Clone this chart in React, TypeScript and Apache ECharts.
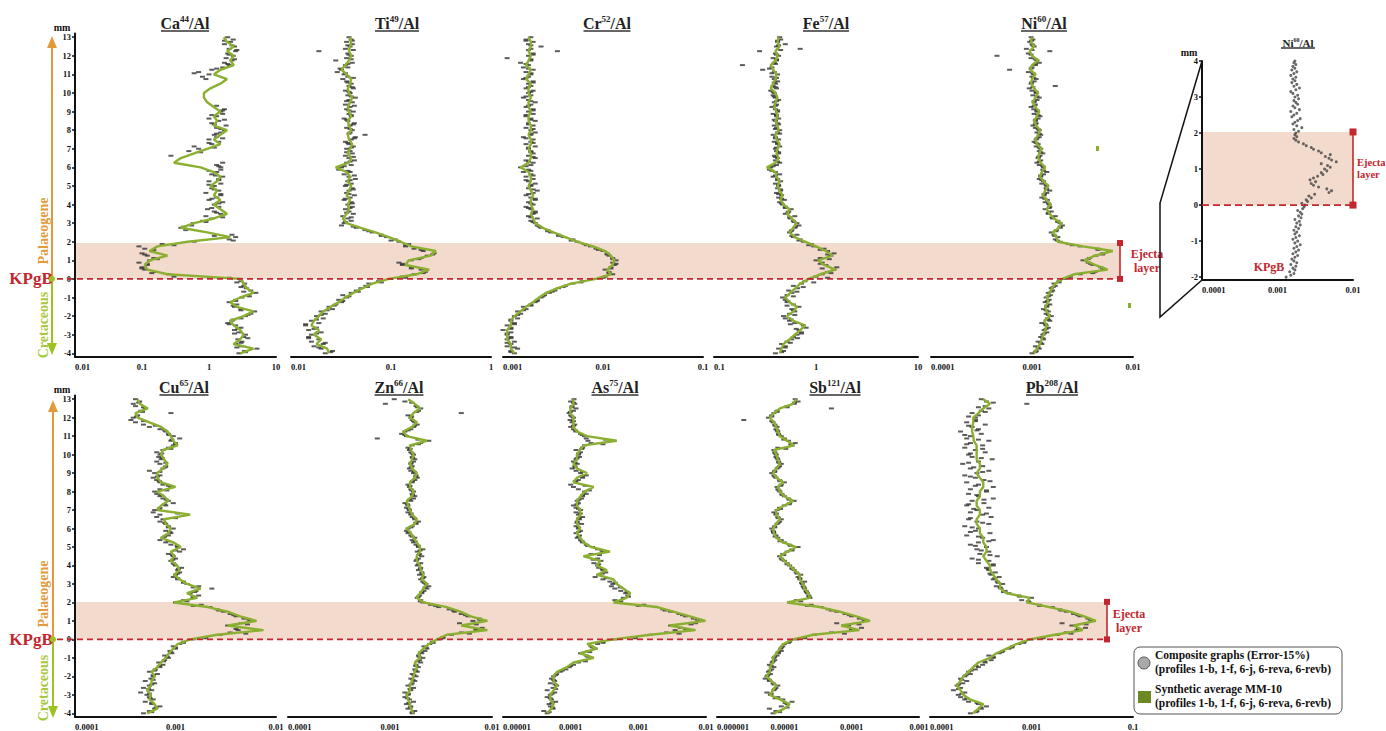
import React, { useEffect, useRef } from "react";
import * as echarts from "echarts";

// ---------- depth grids (mm) ----------
const lineDepths: number[] = Array.from({ length: 69 }, (_, i) => -4 + i * 0.25);
const pointDepths: number[] = Array.from({ length: 137 }, (_, i) => -4 + i * 0.125);
const pointDepths2: number[] = Array.from({ length: 68 }, (_, i) => -3.9375 + i * 0.25);
const insetDepths: number[] = Array.from({ length: 121 }, (_, i) => -2 + i * 0.05);
const depthTicks = [-4, -3, -2, -1, 0, 1, 2, 3, 4, 5, 6, 7, 8, 9, 10, 11, 12, 13];
const insetDepthTicks = [-2, -1, 0, 1, 2, 3, 4];
const ejectaTop = [1.93, 2.03];
const insetEjectaTop = 2.03;

// ---------- tick labels ----------
const caTicks = ["0.01", "0.1", "1", "10"];
const tiTicks = ["0.01", "0.1", "1"];
const crTicks = ["0.001", "0.01", "0.1"];
const feTicks = ["0.1", "1", "10"];
const niTicks = ["0.0001", "0.001", "0.01"];
const cuTicks = ["0.0001", "0.001", "0.01"];
const znTicks = ["0.0001", "0.001", "0.01"];
const asTicks = ["0.00001", "0.0001", "0.001", "0.01"];
const sbTicks = ["0.000001", "0.00001", "0.0001", "0.001"];
const pbTicks = ["0.0001", "0.001", "0.1"];
const insetTicks = ["0.0001", "0.001", "0.01"];

// ---------- Ca44/Al (x 0.01) ----------
const caLine = [293,460,234,293,328,293,234,208,328,460,260,208,293,460,367,328,293,24,12,11,13,24,13,17,48,208,94,38,60,118,186,148,118,148,118,132,105,132,148,118,75,30,38,60,94,148,118,148,186,118,132,118,148,118,94,84,84,105,148,186,118,148,234,208,234,186,234,186,166];
const caPts = [280,340,520,300,250,310,270,330, 350,280,240,300,250,190,220,300, 350,420,480,300,240,260,200,250, 310,380,500,420,360,330,340,300, 290,30,25,16,11,10,12,9, 13,15,12,10,14,11,9,20, 60,200,250,220,null,45,38,55, 58,80,110,90,150,120,95,140, 120,160,100,130,150,90,140,110, 120,150,100,140,160,110,130,150, 150,130,160,null,null,27,null,50, 70,60,110,140,100,130,120,150, 170,130,180,110,140,100,130,160, 150,170,null,null,null,null,null,null, null,null,null,null,null,null,90,80, 100,70,110,160,200,170,220,180, 230,190,250,200,240,170,210,230,190];
const caPts2 = [350,260,300,380,240,270,200,230, 380,300,230,250,400,330,300,260, 200,14,10,12,17,11,15,30, 230,120,null,42,90,160,130,110, 140,110,150,120,100,140,125,100, 140,null,null,75,120,100,160,130, 150,120,170,110,160,130,null,null, null,null,null,null,60,130,190,240, 200,260,220,170];

// ---------- Ti49/Al (x 0.001) ----------
const tiLine = [24,23,18,20,17,19,16,17,19,21,25,30,35,42,52,65,95,180,240,140,150,250,280,160,125,95,70,50,36,33,36,38,37,39,36,38,40,37,39,36,28,38,40,37,39,41,38,37,40,38,37,40,38,37,39,41,38,37,39,40,36,32,35,38,40,38,39,40,39];
const tiPts = [22,26,20,17,21,16,19,15, 16,20,15,18,14,19,16,21, 18,22,20,26,24,28,32,30, 36,33,40,45,50,56,60,75, 100,130,170,220,200,160,130,120, 160,200,230,270,210,170,140,150, 120,110,90,80,65,55,45,32, 34,40,37,33,42,38,35,41, 37,40,34,39,43,36,38,41, 35,40,37,44,38,34,39,30, 32,40,36,43,38,35,41,39, 36,42,38,35,40,44,55,39, 41,36,39,43,37,34,40,38, 42,36,39,35,41,38,44,37, 39,35,42,38,40,36,33,37, 34,29,32,37,35,41,28,36, 40,37,19,35,39,41,36,40,38];
const tiPts2 = [25,19,22,15,18,17,14,18, 20,23,27,33,38,47,58,80, 140,210,160,130,190,260,200,140, 100,80,60,42,35,40,36,39, 41,35,38,42,36,39,43,37, 34,39,42,36,40,37,43,38, 39,42,36,40,38,43,36,40, 38,41,37,42,35,31,37,40, 38,42,37,41];

// ---------- Cr52/Al (x 0.0001) ----------
const crLine = [13,12,12,11,11,11,12,12,13,15,17,20,23,27,35,48,85,120,110,125,130,120,105,80,55,42,32,25,21,20,19,20,19,19,20,19,18,19,19,18,15,18,19,19,18,19,19,18,19,19,18,18,19,18,18,19,18,18,19,17,18,19,17,18,19,18,19,19,18];
const crPts = [13,12,14,11,12,13,11,12, 11,12,10,12,11,13,12,14, 13,15,14,17,16,19,21,22, 24,26,29,33,36,42,50,62, 80,105,125,115,105,120,130,125, 135,125,115,110,100,85,75,65, 55,50,40,36,30,28,24,22, 21,19,22,18,20,21,19,17, 20,18,21,19,17,20,22,18, 19,21,18,20,17,19,16,18, 15,19,20,17,21,18,20,19, 18,21,17,19,20,16,19,21, 19,17,20,18,21,19,17,20, 18,20,17,19,21,18,16,19, 18,20,17,19,18,20,16,18, 19,17,20,16,18,15,19,11, 18,20,35,19,24,18,20,17,19];
const crPts2 = [12,13,11,12,11,12,13,12, 14,16,19,22,25,31,40,60, 100,115,120,135,125,110,90,68, 48,36,28,23,20,19,21,18, 19,21,18,20,19,17,20,19, 17,18,20,19,18,20,17,19, 20,18,19,17,20,18,19,17, 19,18,20,17,19,18,17,19, 20,18,19,17];

// ---------- Fe57/Al (x 0.01) ----------
const feLine = [44,46,48,55,62,70,78,60,52,60,65,55,50,56,63,70,85,110,155,120,105,145,125,100,78,62,55,60,64,58,52,55,48,45,47,44,42,44,41,40,33,40,43,41,42,44,41,40,43,42,40,42,41,39,40,42,40,36,38,40,41,38,36,40,42,40,44,42,43];
const fePts = [40,48,43,50,46,52,58,60, 65,72,68,80,75,62,55,50, 48,55,62,58,68,60,52,50, 47,52,58,54,66,60,72,78, 90,100,115,130,150,160,125,115, 100,110,140,150,130,120,95,90, 75,70,60,65,55,58,62,68, 65,60,56,62,50,54,57,50, 47,44,49,43,46,41,45,42, 43,40,45,42,38,44,40,35, 36,41,44,40,42,39,43,41, 40,44,42,39,43,40,38,42, 44,41,39,42,40,43,41,38, 42,40,37,41,39,43,40,38, 39,36,41,38,40,42,39,37, 42,39,30,37,19,39,41,38, 43,40,28,70,41,50,42,45,44];
const fePts2 = [46,50,56,66,72,64,56,57, 62,60,52,53,60,65,75,95, 130,140,115,110,135,130,110,85, 68,58,57,63,61,55,53,50, 46,46,43,45,43,42,40,37, 38,42,40,43,41,42,40,44, 40,43,39,41,42,40,41,39, 38,40,39,41,37,35,40,41, 41,45,43,42];

// ---------- Ni60/Al (x 0.00001) ----------
const niLine = [105,112,120,125,130,135,140,132,150,140,135,145,140,150,158,170,200,260,560,420,330,420,630,320,180,175,160,185,195,165,150,140,152,140,128,135,145,130,120,125,135,122,115,118,125,112,108,115,120,110,105,112,118,108,102,108,115,105,98,100,108,96,100,115,100,95,105,98,100];
const niPts = [100,110,118,108,125,115,130,122, 128,140,132,145,138,125,150,142, 155,138,145,130,140,150,135,148, 138,152,145,160,155,170,165,185, 210,240,300,420,520,480,400,360, 320,370,430,500,580,450,300,230, 190,170,180,165,155,175,190,200, 190,180,160,170,145,155,135,150, 148,135,142,125,132,140,150,138, 140,125,130,118,122,130,140,128, 130,118,112,122,115,120,128,118, 122,110,115,105,110,118,122,112, 118,108,102,110,108,115,120,105, 112,104,98,108,105,112,118,102, 110,100,94,170,98,105,110,100, 104,92,60,100,108,118,112,98, 45,92,150,88,105,100,95,102,98];
const niPts2 = [108,115,122,128,132,138,136,145, 145,138,140,142,145,155,162,185, 230,400,500,380,360,500,450,250, 178,168,172,190,180,158,145,148, 146,134,132,140,138,125,122,130, 128,118,116,122,118,110,112,118, 115,108,108,115,112,105,105,112, 110,102,99,104,102,98,108,108, 98,100,102,99];

// ---------- Cu65/Al (x 0.00001) ----------
const cuLine = [52,66,62,55,57,52,57,58,62,58,66,72,80,86,95,105,140,260,750,330,640,440,330,210,97,165,130,178,130,110,97,110,104,90,97,90,113,95,72,85,90,80,77,140,66,72,85,77,66,100,72,66,66,75,83,77,72,75,105,95,90,83,72,55,42,40,53,44,42];
const cuPts = [48,55,62,70,58,50,60,55, 52,45,58,48,55,62,50,57, 60,66,55,63,70,75,68,78, 85,78,92,88,100,95,110,120, 150,200,280,350,420,null,330,450, 560,480,400,350,300,260,220,180, 100,120,150,170,140,160,230,170, 130,120,105,95,100,110,105,115, 100,95,90,100,95,85,110,120, 105,90,80,70,75,85,90,80, 95,85,80,70,75,65,70,60, 62,70,80,95,85,75,70,65, 62,70,90,75,70,65,60,70, 62,55,75,80,70,65,72,68, 70,65,75,85,95,100,90,110, 95,85,80,70,55,48,40,36, 38,42,90,45,50,40,38,44,40];
const cuPts2 = [58,64,58,56,55,54,58,60, 60,62,69,76,83,90,100,120, 200,500,400,520,540,380,270,150, 130,150,155,150,120,105,105,107, 97,94,93,100,104,85,78,88, 85,78,100,105,69,78,81,72, 82,85,69,66,70,79,80,74, 73,90,100,92,86,78,63,48, 41,47,48,43];

// ---------- Zn66/Al (x 0.00001) ----------
const znLine = [170,160,157,150,146,157,157,165,170,175,183,175,197,190,213,240,290,360,900,500,900,620,490,360,213,183,197,213,230,205,213,200,197,183,183,197,197,183,170,160,146,175,183,165,157,150,146,165,170,157,157,175,183,165,157,165,170,160,157,230,146,135,165,183,157,170,197,175,151];
const znPts = [165,175,150,160,145,170,155,140, 150,140,160,170,150,165,175,160, 180,165,185,175,190,180,200,195, 210,190,205,220,230,215,245,260, 300,330,400,500,700,800,550,480, 650,750,580,500,430,380,300,250, 210,200,185,195,205,215,230,240, 225,210,200,215,195,205,190,200, 185,200,180,190,205,195,185,210, 190,180,170,165,175,160,150,145, 150,165,180,190,175,165,160,150, 155,145,150,140,160,170,175,165, 170,160,155,150,165,175,185,180, 170,160,155,165,160,170,175,165, 170,160,155,150,165,200,240,75, 145,130,140,160,170,185,175,165, 160,150,500,190,200,180,90,140,110];
const znPts2 = [165,158,153,148,152,157,161,168, 172,179,179,186,193,201,226,265, 330,600,700,700,760,550,420,280, 198,190,205,221,217,209,206,198, 190,183,190,197,190,176,165,153, 160,179,174,161,153,148,155,167, 163,157,166,179,174,161,161,167, 165,158,190,188,140,150,174,170, 163,183,186,163];

// ---------- As75/Al (x 0.000001) ----------
const asLine = [45,52,56,50,50,56,63,56,56,63,88,110,220,138,245,175,430,1500,7000,2900,9800,5800,3300,1900,430,670,760,600,480,430,245,343,244,274,155,380,200,155,138,124,138,124,124,140,138,124,124,140,160,218,110,124,174,124,110,124,124,138,155,480,174,124,110,110,110,99,99,110,110];
const asPts = [45,40,55,50,48,60,52,45, 50,58,45,55,62,50,58,52, 56,62,70,85,95,110,130,160, 200,170,140,180,230,200,250,300, 450,900,1500,2600,3500,4200,3000,7000, 8500,6500,5000,4000,3000,2300,1800,1200, 500,450,600,700,650,550,450,400, 420,380,300,230,260,330,300,260, 250,220,280,250,170,200,300,250, 210,170,150,140,125,135,120,140, 130,120,145,125,135,150,130,120, 140,120,110,130,125,145,150,170, 160,130,110,100,120,130,150,170, 140,120,105,115,125,110,120,135, 130,140,120,150,160,200,180,170, 160,140,120,110,100,115,105,98, 110,100,95,110,120,105,115,100,112];
const asPts2 = [48,54,53,50,53,60,59,56, 60,75,99,165,179,191,210,300, 900,4000,5000,6000,7500,4500,2500,1000, 550,715,680,540,455,338,294,294, 259,215,267,290,178,147,131,131, 131,124,132,139,131,124,132,150, 189,164,117,149,149,117,117,124, 131,146,300,327,149,117,110,110, 104,99,104,110];

// ---------- Sb121/Al (x 0.0000001) ----------
const sbLine = [70,100,120,86,61,68,76,65,54,61,61,68,68,76,86,96,135,268,1300,700,1870,1180,667,337,110,240,226,200,190,170,170,140,120,100,86,110,150,96,76,70,68,76,86,76,76,100,135,100,86,80,96,76,68,76,86,80,76,70,140,110,86,80,76,70,61,70,86,135,150];
const sbPts = [68,75,60,90,110,130,95,80, 62,55,70,75,80,68,60,52, 55,62,58,65,70,60,66,72, 70,78,82,90,88,95,100,120, 150,200,280,500,1000,1400,900,600, 1600,1300,1000,800,600,450,350,250, 120,150,240,230,220,210,200,190, 185,200,170,160,175,150,140,130, 120,110,100,90,85,95,110,130, 160,120,100,90,80,75,70,68, 65,72,78,85,90,80,75,70, 78,85,100,120,140,115,100,92, 86,80,78,90,100,85,75,70, 65,72,78,85,90,82,80,75, 76,72,70,80,130,145,115,100, 90,82,80,75,78,72,68,25, 58,65,70,78,500,110,140,160,145];
const sbPts2 = [85,110,103,73,64,72,70,60, 57,61,64,68,72,81,91,115, 200,780,1000,1285,1525,920,500,220, 175,233,213,195,180,170,155,130, 110,93,98,130,123,86,73,69, 72,81,81,76,88,118,118,93, 83,88,86,72,72,81,83,78, 73,105,125,98,83,78,73,65, 65,78,110,142];

// ---------- Pb208/Al (x 0.000001) ----------
const pbLine = [267,300,335,247,213,200,183,200,213,240,267,300,390,450,570,710,960,1700,3200,2600,4300,3300,2400,1500,900,960,570,490,490,450,420,390,390,360,335,360,360,335,335,310,310,288,288,310,310,288,288,310,310,335,335,310,288,310,310,288,288,288,288,270,267,260,260,267,267,300,335,390,335];
const pbPts = [250,290,320,360,300,240,220,200, 190,220,170,200,185,210,230,200, 220,250,240,280,300,330,350,400, 420,380,480,520,600,650,750,850, 1000,1300,1800,2200,2800,3400,2500,2000, 4000,3600,3000,2600,2200,1900,1600,1200, 950,800,1000,750,600,550,500,450, 520,460,420,480,400,440,380,360, 420,300,380,260,460,310,380,290, 360,250,300,420,330,230,390,280, 300,220,380,290,240,400,330,250, 290,380,230,340,260,420,300,240, 360,250,420,300,230,340,280,220, 290,380,250,330,210,300,410,260, 240,350,280,220,330,250,380,230, 250,320,200,300,260,350,230,280, 280,300,260,320,380,350,900,360,320];
const pbPts2 = [284,318,291,230,206,191,191,206, 226,254,284,345,420,510,640,835, 1300,2450,2900,3450,3800,2850,1950,1200, 930,765,530,490,470,435,390,375, 420,300,390,320,280,380,300,250, 260,330,250,360,270,240,340,290, 360,280,390,250,330,270,240,320, 250,330,230,300,220,290,240,280, 240,350,300,420];

// ---------- inset Ni60/Al, -2..4 mm (x 0.00001) ----------
const insetNiPts = [130,150,165,145,170,160,175,150,180,165, 155,170,185,160,175,190,165,180,200,170, 185,160,175,195,170,180,165,190,175,200, 180,195,170,205,190,210,200,185,215,225, 230,210,250,240,280,260,310,480,520,450, 350,300,280,320,270,300,340,400,380,450, 420,500,460,380,600,520,480,430,500,380, 350,300,280,240,220,190,175,165,180,170, 175,190,165,210,180,160,170,185,200,155, 165,180,150,195,170,160,185,175,165,190, 170,185,160,150,175,195,165,180,155,170, 160,175,150,165,180,155,170,160,175,165,170];

// ---------- layout / style ----------
const SERIF = "'Liberation Serif', 'Times New Roman', serif";
const RED = "#c3262e";
const BAND = "#f2dacd";
const LINE = "#8bb031";
const DOT = "#333333";
const ORANGE = "#e29b3b";
const GREEN = "#9dc321";

const ROWS = [
  { top: 33.5, height: 323.5, titleY: 23, ulY: 31 },
  { top: 395.5, height: 323.6, titleY: 387, ulY: 395 },
];

const PANELS = [
  { el: "Ca", iso: "44", line: caLine, pts: caPts, pts2: caPts2, unit: 1e-2, min: 1e-2, max: 10, ticks: caTicks, row: 0, left: 75, width: 201, tx: 185, ul: 48 },
  { el: "Ti", iso: "49", line: tiLine, pts: tiPts, pts2: tiPts2, unit: 1e-3, min: 1e-2, max: 1, ticks: tiTicks, row: 0, left: 291, width: 200, tx: 397, ul: 44 },
  { el: "Cr", iso: "52", line: crLine, pts: crPts, pts2: crPts2, unit: 1e-4, min: 1e-3, max: 0.1, ticks: crTicks, row: 0, left: 503, width: 200, tx: 607, ul: 47 },
  { el: "Fe", iso: "57", line: feLine, pts: fePts, pts2: fePts2, unit: 1e-2, min: 0.1, max: 10, ticks: feTicks, row: 0, left: 714, width: 204, tx: 826, ul: 46 },
  { el: "Ni", iso: "60", line: niLine, pts: niPts, pts2: niPts2, unit: 1e-5, min: 1e-4, max: 1e-2, ticks: niTicks, row: 0, left: 931, width: 202, tx: 1044, ul: 46 },
  { el: "Cu", iso: "65", line: cuLine, pts: cuPts, pts2: cuPts2, unit: 1e-5, min: 1e-4, max: 1e-2, ticks: cuTicks, row: 1, left: 75, width: 201, tx: 184, ul: 49 },
  { el: "Zn", iso: "66", line: znLine, pts: znPts, pts2: znPts2, unit: 1e-5, min: 1e-4, max: 1e-2, ticks: znTicks, row: 1, left: 288, width: 204, tx: 399, ul: 49 },
  { el: "As", iso: "75", line: asLine, pts: asPts, pts2: asPts2, unit: 1e-6, min: 1e-5, max: 1e-2, ticks: asTicks, row: 1, left: 503, width: 203, tx: 615, ul: 47 },
  { el: "Sb", iso: "121", line: sbLine, pts: sbPts, pts2: sbPts2, unit: 1e-7, min: 1e-6, max: 1e-3, ticks: sbTicks, row: 1, left: 717, width: 202, tx: 835, ul: 51 },
  { el: "Pb", iso: "208", line: pbLine, pts: pbPts, pts2: pbPts2, unit: 1e-6, min: 1e-4, max: 1e-2, ticks: pbTicks, row: 1, left: 930, width: 203, tx: 1052, ul: 52 },
];
const INSET = { left: 1202, width: 151, top: 61, height: 219, min: 1e-4, max: 1e-2, unit: 1e-5 };

function pairs(vals: (number | null)[], depths: number[], unit: number) {
  const out: number[][] = [];
  vals.forEach((v, i) => {
    if (v != null && depths[i] != null) out.push([v * unit, depths[i]]);
  });
  return out;
}

function xAxisFor(gi: number, min: number, max: number, ticks: string[]) {
  const base = Math.round(Math.log10(min));
  return {
    type: "log", logBase: 10, gridIndex: gi, min, max,
    axisLine: { show: true, onZero: false, lineStyle: { color: "#111", width: 2 } },
    axisTick: { show: false }, minorTick: { show: false },
    splitLine: { show: false }, minorSplitLine: { show: false },
    axisLabel: {
      show: true, color: "#111", fontFamily: SERIF, fontWeight: "bold", fontSize: 8.5, margin: 5,
      showMinLabel: true, showMaxLabel: true, alignMinLabel: "left", alignMaxLabel: "center",
      formatter: (v: number) => ticks[Math.round(Math.log10(v)) - base] ?? "",
    },
  };
}

function yAxisFor(gi: number, show: boolean, min: number, max: number, tv: number[]) {
  return {
    type: "value", gridIndex: gi, min, max, show,
    axisLine: { show: true, onZero: false, lineStyle: { color: "#111", width: 2 } },
    axisTick: { show: true, customValues: tv, length: 3, lineStyle: { color: "#111", width: 1.5 } },
    axisLabel: { customValues: tv, color: "#111", fontFamily: SERIF, fontWeight: "bold", fontSize: 8.5, margin: 4 },
    splitLine: { show: false },
  };
}

function buildOption() {
  const grid: any[] = PANELS.map((p) => ({ left: p.left, width: p.width, top: ROWS[p.row].top, height: ROWS[p.row].height }));
  grid.push({ left: INSET.left, width: INSET.width, top: INSET.top, height: INSET.height });
  const xAxis: any[] = PANELS.map((p, i) => xAxisFor(i, p.min, p.max, p.ticks));
  xAxis.push(xAxisFor(10, INSET.min, INSET.max, insetTicks));
  const yAxis: any[] = PANELS.map((p, i) => yAxisFor(i, i === 0 || i === 5, -4.2, 13.2, depthTicks));
  yAxis.push(yAxisFor(10, true, -2.08, 4, insetDepthTicks));
  const series: any[] = [];
  PANELS.forEach((p, i) => {
    series.push({
      type: "scatter", xAxisIndex: i, yAxisIndex: i, silent: true, z: 2,
      symbol: "rect", symbolSize: [5, 2], itemStyle: { color: DOT },
      data: pairs(p.pts, pointDepths, p.unit).concat(pairs(p.pts2, pointDepths2, p.unit)),
    });
    series.push({
      type: "line", xAxisIndex: i, yAxisIndex: i, silent: true, z: 3,
      showSymbol: false, symbol: "none", lineStyle: { color: LINE, width: 2.4 },
      data: pairs(p.line, lineDepths, p.unit),
    });
  });
  series.push({
    type: "scatter", xAxisIndex: 10, yAxisIndex: 10, silent: true, z: 2,
    symbol: "circle", symbolSize: 3, itemStyle: { color: "#444" },
    data: pairs(insetNiPts, insetDepths, INSET.unit),
  });
  return { animation: false, backgroundColor: "#fff", grid, xAxis, yAxis, series };
}

function text(x: number, y: number, t: string, size: number, fill: string, extra: any = {}, align = "center") {
  return {
    type: "text", x, y, z: 10, silent: true, ...extra,
    style: { text: t, fill, fontFamily: SERIF, fontWeight: "bold", fontSize: size, align, verticalAlign: "middle", lineHeight: size + 2 },
  };
}
function seg(x1: number, y1: number, x2: number, y2: number, stroke: string, w: number, dash?: number[]) {
  return { type: "line", z: 10, silent: true, shape: { x1, y1, x2, y2 }, style: { stroke, lineWidth: w, lineDash: dash || null } };
}
function box(x: number, y: number, w: number, h: number, fill: string, z = 10) {
  return { type: "rect", z, silent: true, shape: { x, y, width: w, height: h }, style: { fill } };
}
function title(cx: number, cy: number, el: string, iso: string, size: number, ulY: number, ulW: number) {
  return [
    {
      type: "text", x: cx, y: cy, z: 10, silent: true,
      style: {
        text: `{m|${el}}{s|${iso}}{m|/Al}`, align: "center", verticalAlign: "middle",
        rich: {
          m: { fontFamily: SERIF, fontWeight: "bold", fontSize: size, fill: "#222", lineHeight: size + 2 },
          s: { fontFamily: SERIF, fontWeight: "bold", fontSize: Math.round(size * 0.56), fill: "#222", lineHeight: Math.round(size * 0.6), verticalAlign: "top" },
        },
      },
    },
    seg(cx - ulW / 2, ulY, cx + ulW / 2, ulY, "#333", 1.3),
  ];
}
function bracket(x: number, yTop: number, yBot: number, sq: number) {
  return [
    seg(x, yTop, x, yBot, RED, 1.6),
    box(x - sq / 2, yTop - sq / 2, sq, sq, RED, 11),
    box(x - sq / 2, yBot - sq / 2, sq, sq, RED, 11),
  ];
}
function eraArrows(x: number, y0: number, tipTop: number, tipBot: number, palY: number, creY: number) {
  return [
    seg(x, y0, x, tipTop + 10, ORANGE, 2),
    { type: "polygon", z: 10, silent: true, shape: { points: [[x, tipTop], [x - 5, tipTop + 12], [x + 5, tipTop + 12]] }, style: { fill: ORANGE } },
    seg(x, y0, x, tipBot - 10, GREEN, 2),
    { type: "polygon", z: 10, silent: true, shape: { points: [[x, tipBot], [x - 5, tipBot - 12], [x + 5, tipBot - 12]] }, style: { fill: GREEN } },
    { type: "circle", z: 11, silent: true, shape: { cx: x, cy: y0, r: 3 }, style: { fill: GREEN } },
    text(43, palY, "Palaeogene", 14, ORANGE, { rotation: Math.PI / 2 }),
    text(43, creY, "Cretaceous", 14, "#a8c93b", { rotation: Math.PI / 2 }),
    text(31, y0, "KPgB", 17, RED),
  ];
}

function buildGraphics(chart: any) {
  const py = (gi: number, min: number, d: number) => (chart.convertToPixel({ gridIndex: gi }, [min, d]) as number[])[1];
  const t0 = py(0, PANELS[0].min, 0), tE = py(0, PANELS[0].min, ejectaTop[0]);
  const b0 = py(5, PANELS[5].min, 0), bE = py(5, PANELS[5].min, ejectaTop[1]);
  const i0 = py(10, INSET.min, 0), iE = py(10, INSET.min, insetEjectaTop);
  const g: any[] = [];
  // ejecta bands
  g.push(box(76, tE, 1120 - 76, t0 - tE, BAND, 0));
  g.push(box(76, bE, 1107 - 76, b0 - bE, BAND, 0));
  g.push(box(INSET.left + 1, iE, INSET.width - 1, i0 - iE, BAND, 0));
  // KPgB dashed lines
  g.push(seg(57, t0, 1120, t0, RED, 1.6, [6, 4]));
  g.push(seg(57, b0, 1107, b0, RED, 1.6, [6, 4]));
  g.push(seg(INSET.left, i0, INSET.left + INSET.width, i0, RED, 1.8, [7, 4]));
  // brackets + labels
  g.push(...bracket(1120, tE, t0, 6));
  g.push(...bracket(1107, bE, b0, 6));
  g.push(...bracket(INSET.left + INSET.width, iE, i0, 7));
  g.push(text(1147, (tE + t0) / 2, "Ejecta\nlayer", 12, RED));
  g.push(text(1129, (bE + b0) / 2, "Ejecta\nlayer", 12, RED));
  g.push(text(1357, (iE + i0) / 2, "Ejecta\nlayer", 10.5, RED, {}, "left"));
  // era arrows
  g.push(...eraArrows(52, t0, 36, 355, 231, 325));
  g.push(...eraArrows(53, b0, 400, 718, 594, 688));
  // mm labels
  g.push(text(62, 27, "mm", 10, "#111"));
  g.push(text(62, 389, "mm", 10, "#111"));
  g.push(text(1189, 52, "mm", 10, "#111"));
  // titles
  PANELS.forEach((p) => g.push(...title(p.tx, ROWS[p.row].titleY, p.el, p.iso, 16, ROWS[p.row].ulY, p.ul)));
  g.push(...title(1298, 43, "Ni", "60", 11, 48, 34));
  // inset decorations
  g.push({
    type: "polyline", z: 10, silent: true,
    shape: { points: [[1202, 61], [1160, 203], [1160, 317], [1202, 280]] },
    style: { stroke: "#111", lineWidth: 1.5, fill: null },
  });
  g.push(text(1269, 267, "KPgB", 12, RED));
  // stray green marks in Ni panel
  g.push(box(1096, 146, 3, 5, LINE, 10));
  g.push(box(1128, 303, 3, 5, LINE, 10));
  // legend
  g.push({ type: "rect", z: 10, silent: true, shape: { x: 1134, y: 647, width: 208, height: 67, r: 6 }, style: { fill: "#fff", stroke: "#555", lineWidth: 1 } });
  g.push({ type: "circle", z: 11, silent: true, shape: { cx: 1144, cy: 663, r: 6 }, style: { fill: "#a9a9a9", stroke: "#555", lineWidth: 1 } });
  g.push(box(1138, 691, 13, 12, "#6b8a23", 11));
  g.push(text(1155, 655, "Composite graphs (Error-15%)", 11.5, "#111", {}, "left"));
  g.push(text(1155, 669, "(profiles 1-b, 1-f, 6-j, 6-reva, 6-revb)", 11.5, "#111", {}, "left"));
  g.push(text(1155, 689, "Synthetic average MM-10", 11.5, "#111", {}, "left"));
  g.push(text(1155, 703, "(profiles 1-b, 1-f, 6-j, 6-reva, 6-revb)", 11.5, "#111", {}, "left"));
  return g;
}

export default function App() {
  const ref = useRef<HTMLDivElement>(null);
  useEffect(() => {
    document.body.style.margin = "0";
    const chart = echarts.init(ref.current as HTMLDivElement, null, { renderer: "svg" });
    chart.setOption(buildOption() as any);
    chart.setOption({ graphic: buildGraphics(chart) } as any);
    return () => chart.dispose();
  }, []);
  return <div ref={ref} style={{ width: 1386, height: 731 }} />;
}
